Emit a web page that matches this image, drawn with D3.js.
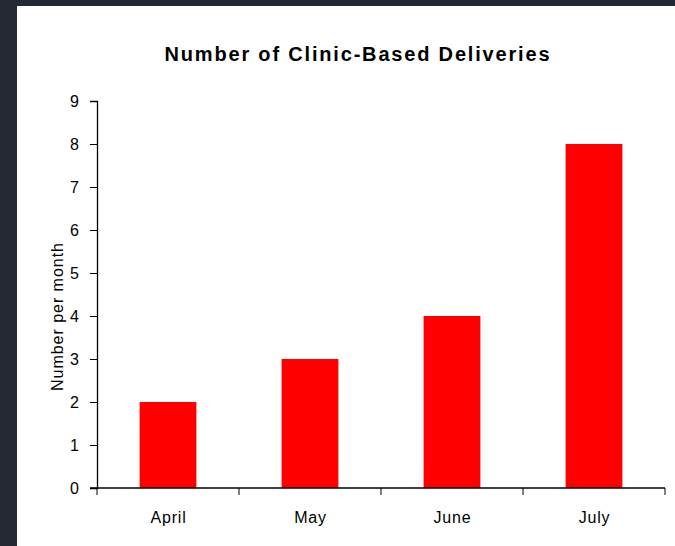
<!DOCTYPE html>
<html>
<head>
<meta charset="utf-8">
<script src="https://cdn.jsdelivr.net/npm/d3@7"></script>
<style>
  html, body { margin: 0; padding: 0; background: #232a34; }
  svg { display: block; }
  text { font-family: 'Liberation Sans', Arial, sans-serif; fill: #000; }
</style>
</head>
<body>
<script>
'use strict'

const months = ['April', 'May', 'June', 'July']
const deliveries = [2, 3, 4, 8]
const yTicks = [0, 1, 2, 3, 4, 5, 6, 7, 8, 9]

const width = 675
const height = 546

const svg = d3.select('body').append('svg')
    .attr('width', width)
    .attr('height', height)

// white chart panel
svg.append('rect')
    .attr('x', 17)
    .attr('y', 6)
    .attr('width', width - 17)
    .attr('height', height - 6)
    .attr('fill', '#fff')

const x = d3.scaleBand()
    .domain(months)
    .range([97, 665])

const y = d3.scaleLinear()
    .domain([0, 9])
    .range([488, 101])

const barW = x.bandwidth() * 0.4

svg.selectAll('.bar')
    .data(months)
  .enter().append('rect')
    .attr('class', 'bar')
    .attr('x', d => x(d) + (x.bandwidth() - barW) / 2)
    .attr('y', (d, i) => y(deliveries[i]))
    .attr('width', barW)
    .attr('height', (d, i) => y(0) - y(deliveries[i]))
    .attr('fill', '#ff0000')

// y axis
const yAxis = svg.append('g')
    .attr('transform', 'translate(97,0)')
    .call(d3.axisLeft(y).tickValues(yTicks).tickSize(7).tickPadding(11).tickFormat(d3.format('d')))
yAxis.select('.domain').attr('stroke', '#000').attr('stroke-width', 1.3)
yAxis.selectAll('.tick line').attr('stroke', '#000')
yAxis.selectAll('.tick text')
    .attr('font-size', null)
    .style('font-size', '16px')

// x axis: ticks at band boundaries
const bounds = months.map(m => x(m)).concat([x.range()[1]])
svg.append('line')
    .attr('x1', 90).attr('x2', 665)
    .attr('y1', y(0)).attr('y2', y(0))
    .attr('stroke', '#000').attr('stroke-width', 1.3)
const xg = svg.append('g')
xg.selectAll('line')
    .data(bounds)
  .enter().append('line')
    .attr('x1', d => d).attr('x2', d => d)
    .attr('y1', y(0)).attr('y2', y(0) + 7)
    .attr('stroke', '#000')
xg.selectAll('text')
    .data(months)
  .enter().append('text')
    .attr('x', d => x(d) + x.bandwidth() / 2 + 0.5)
    .attr('y', 523)
    .attr('text-anchor', 'middle')
    .style('font-size', '16px')
    .style('letter-spacing', '0.8px')
    .text(d => d)

// titles
svg.append('text')
    .attr('x', 357)
    .attr('y', 61)
    .attr('text-anchor', 'middle')
    .attr('textLength', 385)
    .attr('lengthAdjust', 'spacing')
    .style('font-size', '20px')
    .style('font-weight', 'bold')
    .text('Number of Clinic-Based Deliveries')

svg.append('text')
    .attr('transform', 'translate(63,317) rotate(-90)')
    .attr('text-anchor', 'middle')
    .attr('textLength', 148)
    .attr('lengthAdjust', 'spacing')
    .style('font-size', '16px')
    .text('Number per month')
</script>
</body>
</html>
